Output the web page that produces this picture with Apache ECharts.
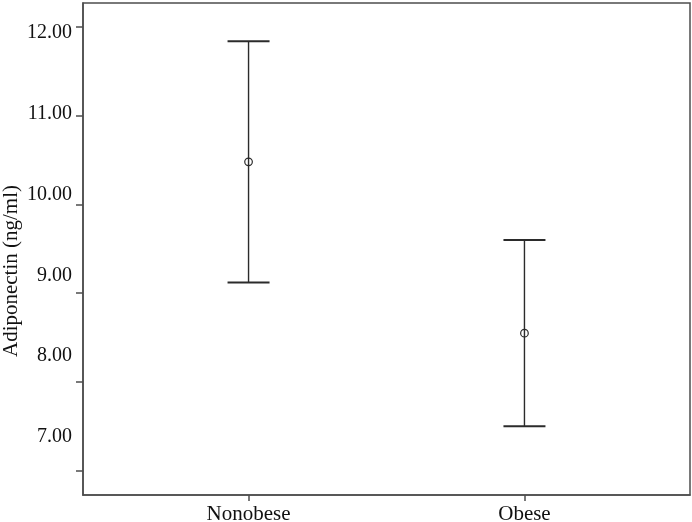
<!DOCTYPE html>
<html>
<head>
    <meta charset="utf-8">
    <style type="text/css">
        *, html, body {
            margin: 0;
            padding: 0;
        }
        html, body, #container {
            width: 692px;
            height: 522px;
            background: #fff;
        }
    </style>
    <script type="text/javascript" src="https://cdn.jsdelivr.net/npm/echarts@6.0.0/dist/echarts.min.js"></script>
</head>
<body>
<div id="container"></div>
<script type="text/javascript">
    // groups and their 95% CI error bars
    const categories = ["Nonobese", "Obese"];
    const means = [10.48, 8.55];
    const lower = [9.12, 7.50];
    const upper = [11.84, 9.60];
    const yTicks = [7, 8, 9, 10, 11, 12];

    const barData = categories.map(function (c, i) {
        return [i, means[i], lower[i], upper[i]];
    });

    const serif = '"Liberation Serif", "DejaVu Serif", serif';
    const ink = '#2b2b2b';

    let myChart = echarts.init(document.getElementById("container"));

    function renderBar(params, api) {
        let x = api.value(0);
        let mid = api.coord([x, api.value(1)]);
        let lo = api.coord([x, api.value(2)]);
        let hi = api.coord([x, api.value(3)]);
        let cap = 21;
        return {
            type: 'group',
            children: [
                {type: 'line', shape: {x1: lo[0], y1: lo[1], x2: hi[0], y2: hi[1]},
                    style: {stroke: ink, lineWidth: 1.4}},
                {type: 'line', shape: {x1: hi[0] - cap, y1: hi[1], x2: hi[0] + cap, y2: hi[1]},
                    style: {stroke: ink, lineWidth: 2}},
                {type: 'line', shape: {x1: lo[0] - cap, y1: lo[1], x2: lo[0] + cap, y2: lo[1]},
                    style: {stroke: ink, lineWidth: 2}},
                {type: 'circle', shape: {cx: mid[0], cy: mid[1], r: 3.8},
                    style: {stroke: ink, fill: 'none', lineWidth: 1.2}}
            ]
        };
    }

    let option = {
        backgroundColor: '#fff',
        animation: false,
        grid: {
            left: 83, right: 2, top: 3, bottom: 27,
            outerBoundsMode: 'none',
            show: true, borderColor: '#4d4d4d', borderWidth: 1.5
        },
        xAxis: {
            type: 'value',
            min: -0.6,
            max: 1.6,
            splitLine: {show: false},
            axisLine: {show: true, onZero: false, lineStyle: {color: '#4d4d4d', width: 1.5}},
            axisTick: {show: true, customValues: [0, 1], length: 6, inside: false,
                lineStyle: {color: '#4d4d4d', width: 1.5}},
            axisLabel: {
                customValues: [0, 1],
                margin: 9,
                fontFamily: serif, fontSize: 21, color: '#111',
                formatter: function (v) { return categories[Math.round(v)]; }
            }
        },
        yAxis: [
            {
                type: 'value',
                min: 6.726,
                max: 12.27,
                name: 'Adiponectin (ng/ml)',
                nameLocation: 'middle',
                nameGap: 61,
                nameTextStyle: {fontFamily: serif, fontSize: 21, color: '#111', padding: [0, 44, 0, 0]},
                splitLine: {show: false},
                axisLine: {show: true, onZero: false, lineStyle: {color: '#4d4d4d', width: 1.5}},
                axisTick: {show: true, customValues: yTicks, length: 7,
                    lineStyle: {color: '#4d4d4d', width: 1.5}},
                axisLabel: {show: false}
            },
            {
                // labels sit a little off the ticks in the original
                type: 'value',
                position: 'left',
                min: 6.282,
                max: 12.371,
                splitLine: {show: false},
                axisLine: {show: false, onZero: false},
                axisTick: {show: false},
                axisLabel: {
                    customValues: yTicks,
                    margin: 11,
                    fontFamily: serif, fontSize: 20, color: '#111',
                    formatter: function (v) { return v.toFixed(2); }
                }
            }
        ],
        series: [{
            type: 'custom',
            yAxisIndex: 0,
            renderItem: renderBar,
            encode: {x: 0, y: [1, 2, 3]},
            data: barData
        }]
    };
    myChart.setOption(option);
</script>
</body>
</html>
